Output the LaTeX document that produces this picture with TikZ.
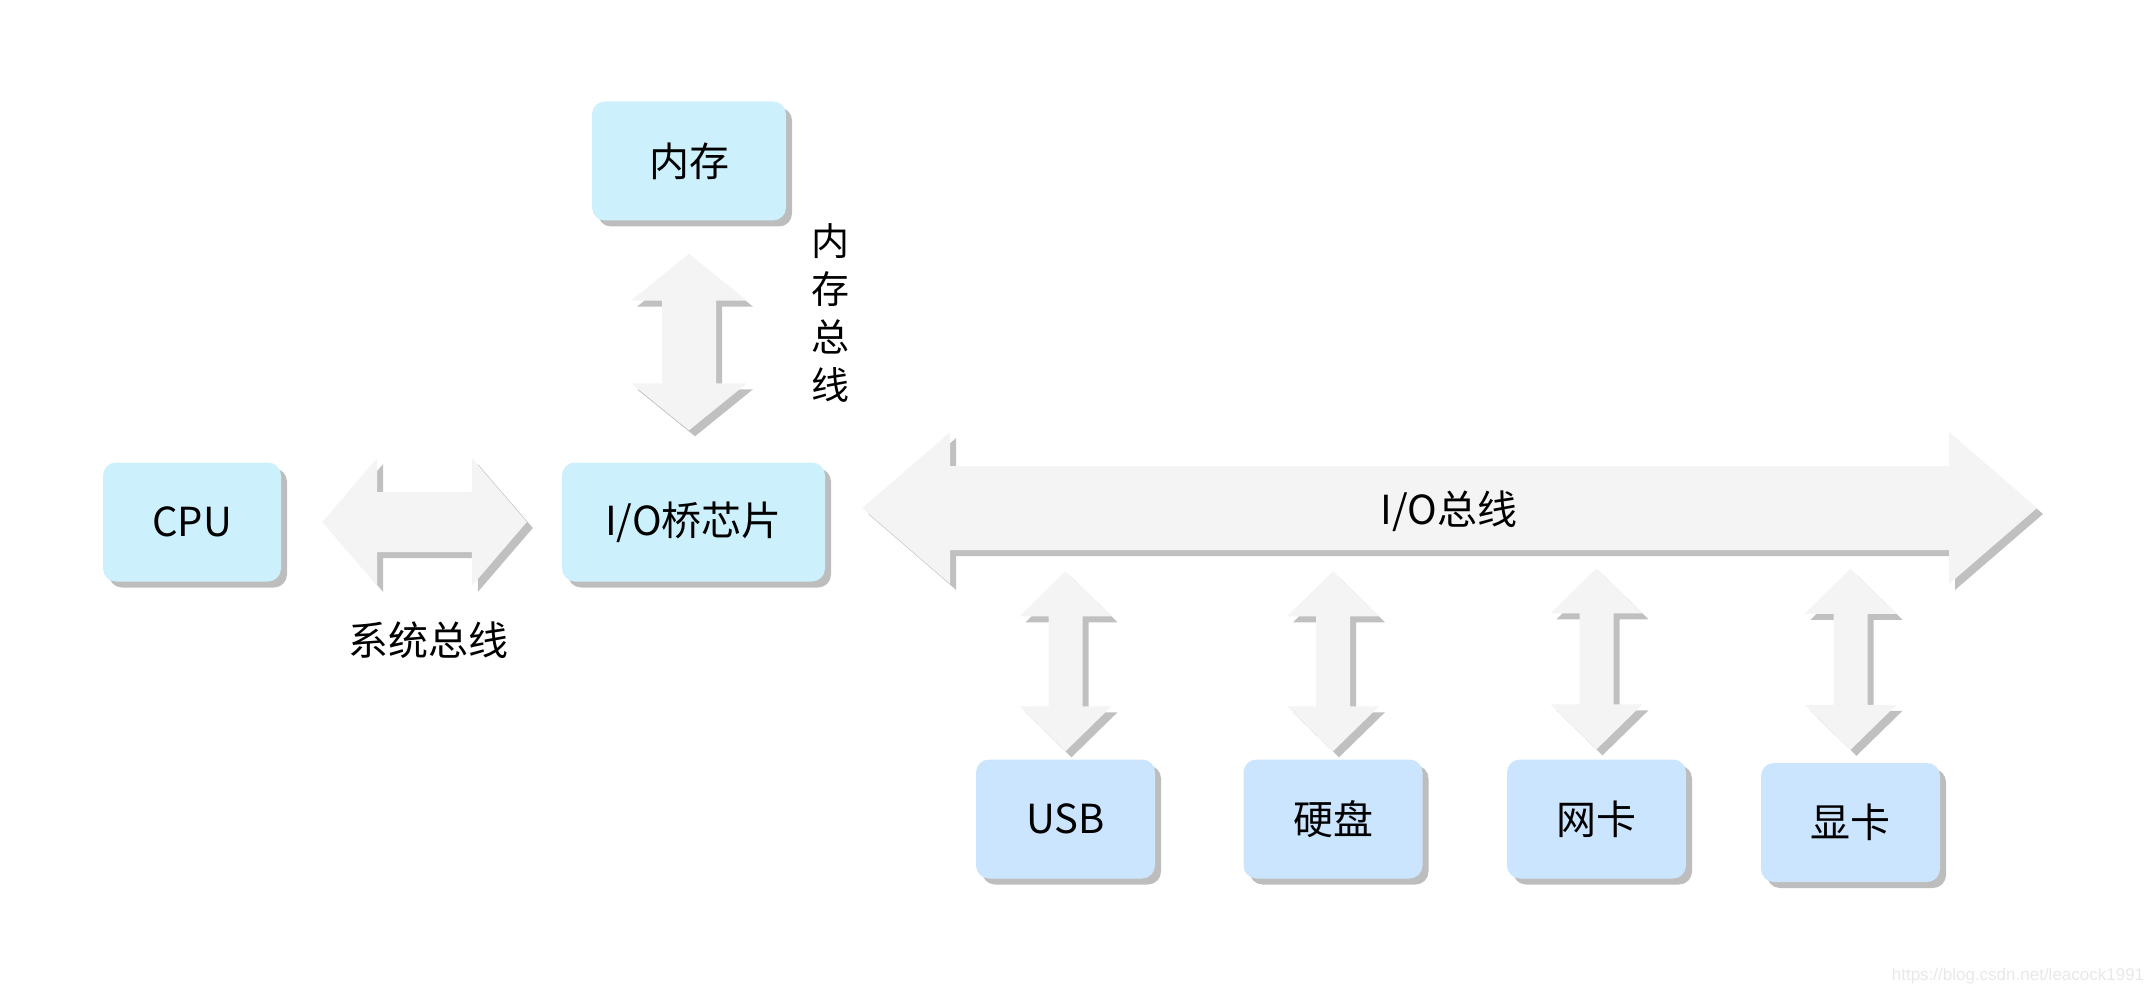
\documentclass[tikz,border=0pt]{standalone}
\usepackage{fontspec}
\setmainfont{Noto Sans CJK SC}
\newfontfamily\wmfont{Liberation Sans}
\usetikzlibrary{calc}
\definecolor{boxcyan}{RGB}{205,240,253}
\definecolor{boxblue}{RGB}{204,229,255}
\definecolor{boxshadow}{RGB}{189,189,189}
\definecolor{arrowfill}{RGB}{244,244,244}
\definecolor{arrowshadow}{RGB}{192,192,192}
\definecolor{wmgray}{RGB}{232,232,232}
% horizontal fat double arrow: #1 left tip, #2 right tip, #3 head length, #4 head half width, #5 shaft half width
\newcommand\fatH[5]{%
  \foreach \d/\col in {6pt/arrowshadow,0pt/arrowfill}{%
    \fill[\col, transform canvas={shift={(\d,-\d)}}] let \p1=(#1), \p2=(#2) in
      (\x1,\y1) -- (\x1+#3pt,\y1+#4pt) -- (\x1+#3pt,\y1+#5pt) -- (\x2-#3pt,\y1+#5pt)
      -- (\x2-#3pt,\y1+#4pt) -- (\x2,\y1) -- (\x2-#3pt,\y1-#4pt) -- (\x2-#3pt,\y1-#5pt)
      -- (\x1+#3pt,\y1-#5pt) -- (\x1+#3pt,\y1-#4pt) -- cycle;}}
% vertical fat double arrow: #1 top tip, #2 bottom tip
\newcommand\fatV[5]{%
  \foreach \d/\col in {6pt/arrowshadow,0pt/arrowfill}{%
    \fill[\col, transform canvas={shift={(\d,-\d)}}] let \p1=(#1), \p2=(#2) in
      (\x1,\y1) -- (\x1+#4pt,\y1-#3pt) -- (\x1+#5pt,\y1-#3pt) -- (\x1+#5pt,\y2+#3pt)
      -- (\x1+#4pt,\y2+#3pt) -- (\x1,\y2) -- (\x1-#4pt,\y2+#3pt) -- (\x1-#5pt,\y2+#3pt)
      -- (\x1-#5pt,\y1-#3pt) -- (\x1-#4pt,\y1-#3pt) -- cycle;}}
\tikzset{
  basebox/.style={rectangle, rounded corners=13pt, inner sep=0pt,
    font=\fontsize{40}{48}\selectfont,
    preaction={fill=boxshadow, transform canvas={shift={(6pt,-6pt)}}}},
  topbox/.style={basebox, fill=boxcyan, minimum height=119pt},
  devbox/.style={basebox, fill=boxblue, minimum width=179pt, minimum height=119pt},
  lbl/.style={inner sep=0pt, font=\fontsize{40}{48}\selectfont}
}
\begin{document}
\begin{tikzpicture}[x=1pt,y=-1pt]
\useasboundingbox (0,0) rectangle (2144,995);
% boxes
\node[topbox, minimum width=194pt] (mem) at (689,161) {内存};
\node[topbox, minimum width=178pt] (cpu) at (192,522) {CPU};
\node[topbox, minimum width=263pt] (io) at (693.5,522) {I/O桥芯片};
\node[devbox] (usb) at (1065.5,819) {USB};
\node[devbox] (disk) at (1333,819) {硬盘};
\node[devbox] (nic) at (1596.5,819) {网卡};
\node[devbox] (gpu) at (1850.5,822.5) {显卡};
% system bus
\coordinate (sbL) at ([xshift=41pt]cpu.east);
\coordinate (sbR) at ([xshift=-35pt]io.west);
\fatH{sbL}{sbR}{55}{64}{30}
% memory bus
\coordinate (mbT) at ([yshift=-33pt]mem.south);
\coordinate (mbB) at ([yshift=32pt]io.north);
\fatV{mbT}{mbB}{47}{58}{27}
% I/O bus
\coordinate (busL) at ([xshift=37pt,yshift=14pt]io.east);
\coordinate (busR) at (2037,508);
\fatH{busL}{busR}{88}{76}{42}
% device arrows
\coordinate (usbT) at ([yshift=188pt]usb.north);
\coordinate (usbB) at ([yshift=8pt]usb.north);
\fatV{usbT}{usbB}{45}{46}{17}
\coordinate (diskT) at ([yshift=188pt]disk.north);
\coordinate (diskB) at ([yshift=8pt]disk.north);
\fatV{diskT}{diskB}{45}{46}{17}
\coordinate (nicT) at ([yshift=191pt]nic.north);
\coordinate (nicB) at ([yshift=10pt]nic.north);
\fatV{nicT}{nicB}{45}{46}{17}
\coordinate (gpuT) at ([yshift=194pt]gpu.north);
\coordinate (gpuB) at ([yshift=13pt]gpu.north);
\fatV{gpuT}{gpuB}{45}{46}{17}
% labels
\node[lbl] (sblabel) at (428,640) {系统总线};
\node[lbl, align=center, font=\fontsize{38}{48}\selectfont] (mblabel) at (830,313) {内\\存\\总\\线};
\node[lbl] (buslabel) at (1449,511) {I/O总线};
\node[inner sep=0pt, text=wmgray, font=\wmfont\fontsize{17}{17}\selectfont] (wm) at (2018,976) {https://blog.csdn.net/leacock1991};
\end{tikzpicture}
\end{document}
